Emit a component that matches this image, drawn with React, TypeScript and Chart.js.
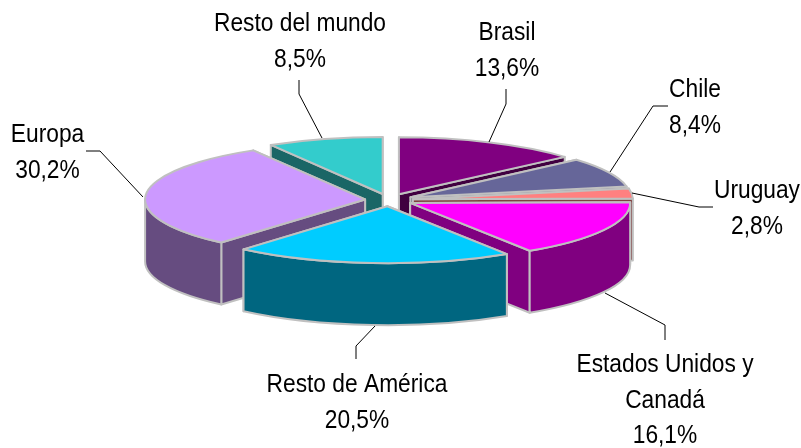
import React, { useEffect, useRef } from "react";
import { Chart, registerables } from "chart.js";

Chart.register(...registerables);

const categories = ["Brasil", "Chile", "Uruguay", "Estados Unidos y|Canadá", "Resto de América", "Europa", "Resto del mundo"];
const shares = [13.6, 8.4, 2.8, 16.1, 20.5, 30.2, 8.5];
const topColors = ["#800080", "#666699", "#ff8080", "#ff00ff", "#00ccff", "#cc99ff", "#33cccc"];
const wallColors = ["#400040", "#333366", "#804040", "#800080", "#006680", "#664c80", "#1a6666"];
const paintOrder = [6, 0, 1, 2, 5, 3, 4];

const CX = 389;
const CY = 200;
const RX = 220;
const RY = 57;
const DEPTH = 62;
const EXPLODE = 24;
const EDGE = "#c0c0c0";

const labelCenters = [
  [507, 40], [695, 97], [757, 198], [665, 372], [357, 392], [47.5, 142], [300, 31],
];
const leaderLines = [
  [[489, 142], [506, 104], [506, 89]],
  [[610, 172], [653, 106], [668, 106]],
  [[632, 193], [699, 207], [713, 207]],
  [[605, 293], [665, 325], [665, 340]],
  [[375, 326], [356, 346], [356, 359]],
  [[143, 197], [100, 151], [86, 151]],
  [[322, 138], [299, 94], [299, 80]],
];

const pie3d = {
  id: "pie3d",
  beforeDatasetDraw(chart: any, args: any) {
    const ctx = chart.ctx;
    const meta = args.meta;
    paintOrder.forEach((i) => {
      const el = meta.data[i];
      const R = el.outerRadius;
      const sx = RX / R;
      const sy = RY / R;
      const a1 = el.startAngle;
      const a2 = el.endAngle;
      const mid = (a1 + a2) / 2;
      const ax = CX + Math.cos(mid) * EXPLODE;
      const ay = CY + (Math.sin(mid) * EXPLODE * RY) / RX;
      const pt = (a: number) => [ax + Math.cos(a) * RX, ay + Math.sin(a) * RY];

      ctx.save();
      ctx.lineJoin = "round";
      ctx.lineWidth = 2;
      ctx.strokeStyle = EDGE;
      ctx.fillStyle = wallColors[i];

      // radial walls, the one further back first
      [a1, a2]
        .sort((p, q) => Math.sin(p) - Math.sin(q))
        .forEach((a) => {
          const [x, y] = pt(a);
          ctx.beginPath();
          ctx.moveTo(ax, ay);
          ctx.lineTo(x, y);
          ctx.lineTo(x, y + DEPTH);
          ctx.lineTo(ax, ay + DEPTH);
          ctx.closePath();
          ctx.fill();
          ctx.stroke();
        });

      // outer wall: only the part of the rim facing the viewer
      const from = Math.max(a1, 0);
      const to = Math.min(a2, Math.PI);
      if (to > from) {
        const [x2, y2] = pt(to);
        ctx.beginPath();
        ctx.ellipse(ax, ay, RX, RY, 0, from, to);
        ctx.lineTo(x2, y2 + DEPTH);
        ctx.ellipse(ax, ay + DEPTH, RX, RY, 0, to, from, true);
        ctx.closePath();
        ctx.fill();
        ctx.stroke();
      }

      // top face, drawn by the library's own arc element
      ctx.save();
      ctx.translate(ax, ay);
      ctx.scale(sx, sy);
      ctx.translate(-el.x, -el.y);
      el.draw(ctx);
      ctx.restore();

      ctx.beginPath();
      ctx.moveTo(ax, ay);
      ctx.ellipse(ax, ay, RX, RY, 0, a1, a2);
      ctx.closePath();
      ctx.stroke();
      ctx.restore();
    });
    return false;
  },
  afterDraw(chart: any) {
    const ctx = chart.ctx;
    ctx.save();
    ctx.strokeStyle = "#000000";
    ctx.lineWidth = 1;
    leaderLines.forEach((line) => {
      ctx.beginPath();
      line.forEach(([x, y], k) => (k ? ctx.lineTo(x, y) : ctx.moveTo(x, y)));
      ctx.stroke();
    });
    ctx.fillStyle = "#000000";
    ctx.textAlign = "center";
    ctx.textBaseline = "alphabetic";
    ctx.font = '25px "Liberation Sans"';
    categories.forEach((name, i) => {
      const lines = [...name.split("|"), shares[i].toFixed(1).replace(".", ",") + "%"];
      const [x, y] = labelCenters[i];
      lines.forEach((t, k) => {
        ctx.save();
        ctx.translate(x, y + k * 35.7);
        ctx.scale(0.91, 1);
        ctx.fillText(t, 0, 0);
        ctx.restore();
      });
    });
    ctx.restore();
  },
};

export default function App() {
  const ref = useRef<HTMLCanvasElement>(null);
  useEffect(() => {
    document.body.style.margin = "0";
    document.body.style.background = "#ffffff";
    const chart = new Chart(ref.current!, {
      type: "pie",
      data: {
        labels: categories.map((c) => c.replace("|", " ")),
        datasets: [
          {
            data: shares,
            backgroundColor: topColors,
            borderWidth: 0,
          },
        ],
      },
      options: {
        responsive: false,
        animation: false,
        plugins: { legend: { display: false }, tooltip: { enabled: false } },
      },
      plugins: [pie3d],
    } as any);
    return () => chart.destroy();
  }, []);
  return <canvas ref={ref} width={801} height={448} style={{ display: "block" }} />;
}
